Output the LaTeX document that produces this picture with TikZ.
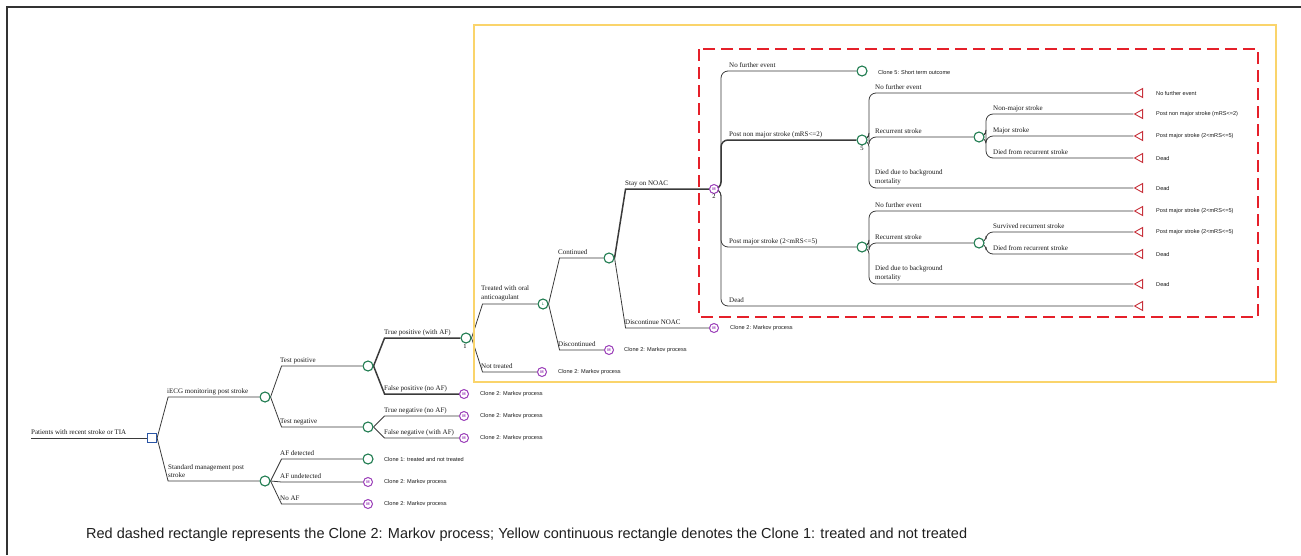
\documentclass[tikz,border=0pt]{standalone}
\usepackage{fontspec}
\usepackage{graphicx}
\setmainfont{Liberation Serif}
\newfontfamily\arialf{Liberation Sans}
\usetikzlibrary{shapes.geometric,backgrounds}
\definecolor{cgreen}{HTML}{1E7B4F}
\definecolor{cpurple}{HTML}{9A3DB8}
\definecolor{cblue}{HTML}{2A55A5}
\definecolor{cred}{HTML}{C8323C}
\definecolor{dred}{HTML}{E5202A}
\definecolor{cyel}{HTML}{FAD46B}
\definecolor{lgray}{HTML}{3A3A3A}
\definecolor{frame}{HTML}{333333}
\newcommand\brS[3][]{\draw[br,#1] (#2.east) -- ([xshift=11pt]#2.east |- #3.west) -- (#3.west);}
\newcommand\brC[3][]{\draw[br,rounded corners=7pt,#1] (#2.center) -- ([xshift=7pt]#2.center) |- (#3.west);}
\begin{document}
\begin{tikzpicture}[x=1pt,y=-1pt,
 chance/.style={circle,draw=cgreen,line width=1.1pt,fill=white,minimum size=10pt,inner sep=0pt},
 logic/.style={chance,font=\fontsize{4}{4}\selectfont\arialf,text=cgreen},
 markov/.style={circle,draw=cpurple,line width=1pt,fill=white,minimum size=9pt,inner sep=0pt,font=\fontsize{4}{4}\selectfont\arialf\bfseries,text=cpurple},
 decision/.style={rectangle,draw=cblue,line width=1.2pt,fill=white,minimum size=9pt,inner sep=0pt},
 term/.style={isosceles triangle,shape border rotate=180,isosceles triangle stretches,draw=cred,line width=0.9pt,fill=white,minimum width=9pt,minimum height=8pt,inner sep=0pt},
 br/.style={draw=lgray,line width=0.8pt},
 boldbr/.style={line width=1.5pt},
 lab/.style={anchor=base west,inner sep=0pt,font=\fontsize{7}{8.5}\selectfont,text=black!90},
 labtwo/.style={anchor=south west,inner sep=0pt,font=\fontsize{7}{8.5}\selectfont,text=black!90,align=left},
 outc/.style={anchor=west,inner sep=0pt,font=\fontsize{5.6}{6.5}\selectfont\arialf,text=black!90},
 num/.style={anchor=north,inner sep=0pt,font=\fontsize{6.5}{7}\selectfont}
]
\useasboundingbox (0,0) rectangle (1301,555);
% frame
\draw[frame,line width=2pt] (7,555) -- (7,7) -- (1301,7);
% highlight rectangles
\draw[cyel,line width=1.5pt] (474,25) rectangle (1276,382);
\draw[dred,line width=2.3pt,dash pattern=on 12pt off 6pt] (699,49) rectangle (1258,317);

% nodes
\coordinate (r0) at (31,438);
\node[decision] (sq) at (152,438) {};
\node[chance] (iecg) at (265,397) {};
\node[chance] (std) at (265,481) {};
\node[chance] (tpos) at (368,366) {};
\node[chance] (tneg) at (368,427) {};
\node[chance] (afdet) at (368,459) {};
\node[markov] (afund) at (368,482) {M};
\node[markov] (noaf) at (368,504) {M};
\node[chance] (n1) at (466,338) {};
\node[markov] (fpos) at (464,394) {M};
\node[markov] (tnegm) at (464,416) {M};
\node[markov] (fnegm) at (464,438) {M};
\node[logic] (treat) at (543,304) {L};
\node[markov] (nottr) at (542,372) {M};
\node[chance] (cont) at (609,258) {};
\node[markov] (disc) at (609,350) {M};
\node[markov] (m2) at (714,189) {M};
\node[markov] (dnoac) at (714,328) {M};
\node[chance] (noev1) at (862,71) {};
\node[chance] (n5) at (862,140) {};
\node[chance] (pmaj) at (862,247) {};
\node[chance] (rec1) at (979,137) {};
\node[chance] (rec2) at (979,243) {};
\node[term] (t1) at (1140,93) {};
\node[term] (t2) at (1140,114) {};
\node[term] (t3) at (1140,136) {};
\node[term] (t4) at (1140,158) {};
\node[term] (t5) at (1140,188) {};
\node[term] (t6) at (1140,211) {};
\node[term] (t7) at (1140,232) {};
\node[term] (t8) at (1140,254) {};
\node[term] (t9) at (1140,284) {};
\node[term] (t10) at (1140,306) {};

% connectors
\begin{scope}[on background layer]
\draw[br] (r0) -- (sq.west);
\brS{sq}{iecg} \brS{sq}{std}
\brS{iecg}{tpos} \brS{iecg}{tneg}
\brS{std}{afdet} \brS{std}{afund} \brS{std}{noaf}
\brS[boldbr]{tpos}{n1} \brS[boldbr]{tpos}{fpos}
\brS{tneg}{tnegm} \brS{tneg}{fnegm}
\brS{n1}{treat} \brS{n1}{nottr}
\brS{treat}{cont} \brS{treat}{disc}
\brS[boldbr]{cont}{m2} \brS{cont}{dnoac}
\brC{m2}{noev1} \brC[boldbr]{m2}{n5} \brC{m2}{pmaj} \brC{m2}{t10}
\brC{n5}{t1} \brC{n5}{rec1} \brC{n5}{t5}
\brC{rec1}{t2} \brC{rec1}{t3} \brC{rec1}{t4}
\brC{pmaj}{t6} \brC{pmaj}{rec2} \brC{pmaj}{t9}
\brC{rec2}{t7} \brC{rec2}{t8}
\end{scope}

% branch labels
\node[lab] (l0) at (31,434) {Patients with recent stroke or TIA};
\node[lab] (l1) at (167,393) {iECG monitoring post stroke};
\node[labtwo] (l2) at (168,478) {Standard management post\\stroke};
\node[lab] (l3) at (280,362) {Test positive};
\node[lab] (l4) at (280,423) {Test negative};
\node[lab] (l5) at (280,455) {AF detected};
\node[lab] (l6) at (280,478) {AF undetected};
\node[lab] (l7) at (280,500) {No AF};
\node[lab] (l8) at (384,334) {True positive (with AF)};
\node[lab] (l9) at (384,390) {False positive (no AF)};
\node[lab] (l10) at (384,412) {True negative (no AF)};
\node[lab] (l11) at (384,434) {False negative (with AF)};
\node[labtwo] (l12) at (481,301) {Treated with oral\\anticoagulant};
\node[lab] (l13) at (481,368) {Not treated};
\node[lab] (l14) at (558,254) {Continued};
\node[lab] (l15) at (558,346) {Discontinued};
\node[lab] (l16) at (625,185) {Stay on NOAC};
\node[lab] (l17) at (625,324) {Discontinue NOAC};
\node[lab] (l18) at (729,67) {No further event};
\node[lab] (l19) at (729,136) {Post non major stroke (mRS<=2)};
\node[lab] (l20) at (729,243) {Post major stroke (2<mRS<=5)};
\node[lab] (l21) at (729,302) {Dead};
\node[lab] (l22) at (875,89) {No further event};
\node[lab] (l23) at (875,133) {Recurrent stroke};
\node[labtwo] (l24) at (875,185) {Died due to background\\mortality};
\node[lab] (l25) at (993,110) {Non-major stroke};
\node[lab] (l26) at (993,132) {Major stroke};
\node[lab] (l27) at (993,154) {Died from recurrent stroke};
\node[lab] (l28) at (875,207) {No further event};
\node[lab] (l29) at (875,239) {Recurrent stroke};
\node[labtwo] (l30) at (875,281) {Died due to background\\mortality};
\node[lab] (l31) at (993,228) {Survived recurrent stroke};
\node[lab] (l32) at (993,250) {Died from recurrent stroke};

% node numbers
\node[num] (k1) at (465,344) {1};
\node[num] (k2) at (714,194) {2};
\node[num] (k5) at (862,146) {5};

% outcome labels
\node[outc] (o1) at (480,394) {Clone 2: Markov process};
\node[outc] (o2) at (480,416) {Clone 2: Markov process};
\node[outc] (o3) at (480,438) {Clone 2: Markov process};
\node[outc] (o4) at (384,459) {Clone 1: treated and not treated};
\node[outc] (o5) at (384,482) {Clone 2: Markov process};
\node[outc] (o6) at (384,504) {Clone 2: Markov process};
\node[outc] (o7) at (558,372) {Clone 2: Markov process};
\node[outc] (o8) at (624,350) {Clone 2: Markov process};
\node[outc] (o9) at (730,328) {Clone 2: Markov process};
\node[outc] (o10) at (878,72) {Clone 5: Short term outcome};
\node[outc] (o11) at (1156,93) {No further event};
\node[outc] (o12) at (1156,114) {Post non major stroke (mRS<=2)};
\node[outc] (o13) at (1156,136) {Post major stroke (2<mRS<=5)};
\node[outc] (o14) at (1156,158) {Dead};
\node[outc] (o15) at (1156,188) {Dead};
\node[outc] (o16) at (1156,211) {Post major stroke (2<mRS<=5)};
\node[outc] (o17) at (1156,232) {Post major stroke (2<mRS<=5)};
\node[outc] (o18) at (1156,254) {Dead};
\node[outc] (o19) at (1156,284) {Dead};

% caption
\node[anchor=base west,inner sep=0pt,text=black!88] (cap) at (86,538) {\resizebox{881pt}{!}{\arialf\fontsize{14}{16}\selectfont Red dashed rectangle represents the Clone 2: Markov process; Yellow continuous rectangle denotes the Clone 1: treated and not treated}};
\end{tikzpicture}
\end{document}
